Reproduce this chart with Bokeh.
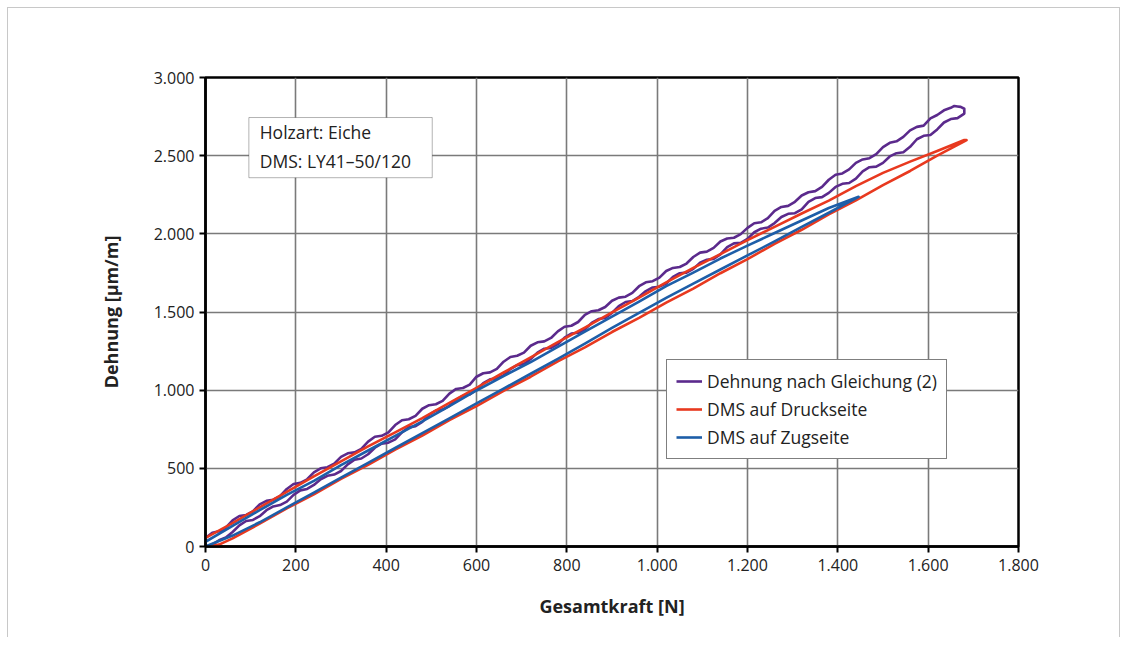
from bokeh.plotting import figure
from bokeh.models import Range1d, FixedTicker, Label, BoxAnnotation, Legend, LegendItem
from bokeh.embed import file_html
from bokeh.resources import INLINE

# ---------------- data ----------------
x_ticks = [0, 200, 400, 600, 800, 1000, 1200, 1400, 1600, 1800]
x_tick_labels = ["0", "200", "400", "600", "800", "1.000", "1.200", "1.400", "1.600", "1.800"]
y_ticks = [0, 500, 1000, 1500, 2000, 2500, 3000]
y_tick_labels = ["0", "500", "1.000", "1.500", "2.000", "2.500", "3.000"]

series_names = ["Dehnung nach Gleichung (2)", "DMS auf Druckseite", "DMS auf Zugseite"]

# Dehnung nach Gleichung (2): loading branch (0 -> 1680 N, step 15 N)
purple_load_f = list(range(0, 1681, 15))
purple_load_s = [0, 12, 40, 58, 93, 135, 163, 170, 194, 232, 256, 265, 287, 330, 359, 368, 394, 430,
                 452, 460, 483, 525, 555, 563, 590, 632, 658, 664, 685, 730, 762, 770, 797, 842, 869,
                 876, 900, 940, 964, 972, 1003, 1045, 1069, 1074, 1094, 1135, 1160, 1167, 1199, 1240,
                 1265, 1270, 1294, 1336, 1362, 1367, 1389, 1430, 1455, 1462, 1494, 1538, 1564, 1570,
                 1597, 1634, 1657, 1662, 1682, 1724, 1748, 1752, 1776, 1815, 1834, 1840, 1869, 1915,
                 1939, 1942, 1968, 2010, 2033, 2040, 2069, 2108, 2128, 2132, 2157, 2205, 2229, 2235,
                 2262, 2300, 2320, 2325, 2353, 2400, 2426, 2430, 2454, 2495, 2516, 2522, 2557, 2605,
                 2627, 2632, 2668, 2712, 2734, 2740, 2769]
# unloading branch (1680 -> 0 N)
purple_unload_f = [1680, 1672, 1665, 1658, 1650, 1635, 1620] + list(range(1605, -1, -15))
purple_unload_s = [2800, 2812, 2815, 2818, 2806, 2790, 2760, 2738, 2692, 2684, 2662, 2620, 2592, 2582,
                   2555, 2510, 2484, 2476, 2454, 2412, 2386, 2378, 2346, 2300, 2273, 2266, 2245, 2205,
                   2179, 2172, 2147, 2100, 2074, 2068, 2038, 1998, 1975, 1970, 1951, 1910, 1886, 1880,
                   1852, 1810, 1788, 1782, 1762, 1720, 1697, 1690, 1665, 1622, 1598, 1592, 1572, 1532,
                   1511, 1505, 1482, 1436, 1412, 1406, 1376, 1334, 1312, 1306, 1284, 1240, 1220, 1212,
                   1182, 1136, 1114, 1108, 1086, 1036, 1014, 1008, 978, 932, 910, 904, 881, 836, 814,
                   808, 777, 730, 708, 702, 671, 624, 602, 596, 573, 530, 507, 500, 474, 430, 407, 400,
                   368, 322, 299, 292, 270, 225, 202, 195, 167, 120, 97, 88, 55]

# DMS auf Druckseite
red_load_f = [0, 30, 60, 120, 180, 240, 300, 360, 420, 480, 540, 600, 660, 720, 780, 840, 900, 960,
              1020, 1080, 1140, 1200, 1260, 1320, 1380, 1440, 1500, 1560, 1620, 1680]
red_load_s = [0, 12, 52, 146, 244, 334, 432, 522, 620, 710, 808, 898, 996, 1086, 1184, 1274, 1372, 1462,
              1560, 1650, 1748, 1838, 1936, 2026, 2124, 2214, 2312, 2402, 2500, 2592]
red_unload_f = [1685, 1680, 1620, 1560, 1500, 1440, 1380, 1320, 1260, 1200, 1140, 1080, 1020, 960, 900,
                840, 780, 720, 660, 600, 540, 480, 420, 360, 300, 240, 180, 120, 60, 0]
red_unload_s = [2600, 2600, 2530, 2462, 2390, 2305, 2212, 2130, 2045, 1960, 1870, 1782, 1690, 1592, 1497,
                1400, 1307, 1210, 1113, 1015, 918, 821, 730, 641, 545, 449, 350, 250, 150, 55]

# DMS auf Zugseite
blue_load_f = [0, 60, 120, 180, 240, 300, 360, 420, 480, 540, 600, 660, 720, 780, 840, 900, 960, 1020,
               1080, 1140, 1200, 1260, 1320, 1380, 1446]
blue_load_s = [0, 70, 155, 250, 345, 440, 535, 630, 725, 820, 915, 1010, 1105, 1200, 1298, 1398, 1495,
               1590, 1682, 1772, 1862, 1952, 2045, 2135, 2237]
blue_unload_f = [1446, 1380, 1320, 1260, 1200, 1140, 1080, 1020, 960, 900, 840, 780, 720, 660, 600, 540,
                 480, 420, 360, 300, 240, 180, 120, 60, 0]
blue_unload_s = [2237, 2165, 2085, 2005, 1925, 1842, 1752, 1666, 1566, 1470, 1374, 1277, 1180, 1090, 998,
                 898, 800, 708, 614, 520, 420, 330, 232, 132, 30]

colors = ["#5b2a8c", "#e8391f", "#1d5ea8"]

FONT = "Open Sans"
TXT = "#222222"

p = figure(width=1113, height=630, output_backend="svg", toolbar_location=None,
           x_range=Range1d(0, 1800), y_range=Range1d(0, 3000),
           min_border_left=197, min_border_right=103, min_border_top=69, min_border_bottom=92)
p.styles = {"border": "1px solid #c8c8c8", "border-bottom": "none",
            "margin-left": "7px", "margin-top": "7px"}
p.background_fill_color = "white"
p.border_fill_color = "white"
p.outline_line_color = "black"
p.outline_line_width = 2.5

for ax in (p.xaxis[0], p.yaxis[0]):
    ax.axis_line_color = "black"
    ax.axis_line_width = 2.5
    ax.major_tick_line_color = "black"
    ax.major_tick_line_width = 2
    ax.major_tick_out = 6
    ax.major_tick_in = 0
    ax.minor_tick_line_color = None
    ax.major_label_text_font = FONT
    ax.major_label_text_font_size = "16px"
    ax.major_label_text_color = TXT
    ax.axis_label_text_font = FONT
    ax.axis_label_text_font_size = "18px"
    ax.axis_label_text_font_style = "bold"
    ax.axis_label_text_color = TXT

p.xaxis.ticker = FixedTicker(ticks=x_ticks)
p.yaxis.ticker = FixedTicker(ticks=y_ticks)
p.xaxis.major_label_overrides = {t: l for t, l in zip(x_ticks, x_tick_labels)}
p.yaxis.major_label_overrides = {t: l for t, l in zip(y_ticks, y_tick_labels)}
p.xaxis.axis_label = "Gesamtkraft [N]"
p.yaxis.axis_label = "Dehnung [µm/m]"
p.xaxis.major_label_standoff = 6
p.yaxis.major_label_standoff = 5
p.xaxis.axis_label_standoff = 20
p.yaxis.axis_label_standoff = 28

p.xgrid.grid_line_color = "#7a7a7a"
p.ygrid.grid_line_color = "#7a7a7a"
p.xgrid.grid_line_width = 1.6
p.ygrid.grid_line_width = 1.6

loops = [
    (purple_load_f + purple_unload_f, purple_load_s + purple_unload_s),
    (red_load_f + red_unload_f, red_load_s + red_unload_s),
    (blue_load_f + blue_unload_f, blue_load_s + blue_unload_s),
]
items = []
for (xf, ys), c, name in zip(loops, colors, series_names):
    r = p.line(xf, ys, line_color=c, line_width=2.6, line_join="round")
    items.append(LegendItem(label=name, renderers=[r]))

legend = Legend(items=items, location=(461, 87))
legend.border_line_color = "black"
legend.border_line_width = 1
legend.background_fill_color = "white"
legend.background_fill_alpha = 1
legend.label_text_font = FONT
legend.label_text_font_size = "17.5px"
legend.label_text_color = TXT
legend.glyph_width = 26
legend.glyph_height = 24
legend.label_height = 24
legend.label_standoff = 5
legend.spacing = 4
legend.padding = 9
legend.margin = 0
p.add_layout(legend, "center")

# info box
box = BoxAnnotation(left=96, right=502, top=2744, bottom=2359,
                    fill_color="white", fill_alpha=1, line_color="black", line_width=1, level="annotation")
p.add_layout(box)
for txt, yy in [("Holzart: Eiche", 2654), ("DMS: LY41–50/120", 2468)]:
    p.add_layout(Label(x=120, y=yy, text=txt, text_font=FONT, text_font_size="17.5px",
                       text_color=TXT, text_baseline="middle", level="annotation"))

open("out.html", "w").write(file_html(p, INLINE))
